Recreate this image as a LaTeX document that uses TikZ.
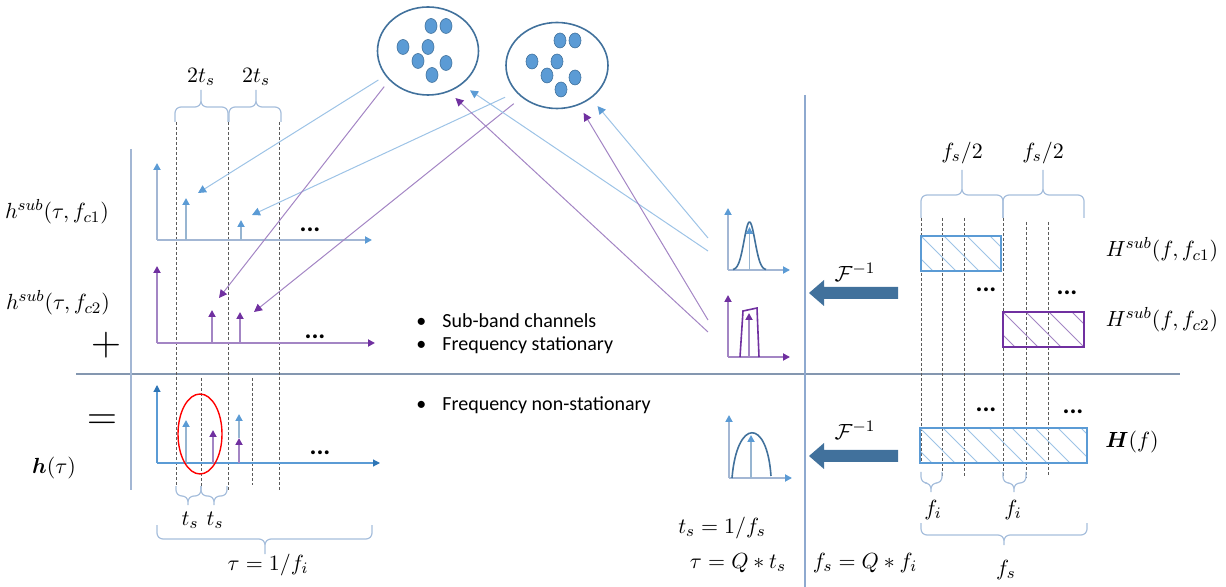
\documentclass[tikz,border=0pt]{standalone}
\usepackage{amsmath,amssymb}
\usepackage{fontspec}
\setmainfont{Carlito}
\usetikzlibrary{arrows.meta,positioning,calc,shapes.geometric}
\definecolor{dkblue}{HTML}{41719C}
\definecolor{mdblue}{HTML}{5B9BD5}
\definecolor{ltblue}{HTML}{9DC3E6}
\definecolor{axblue}{HTML}{A3B7D4}
\definecolor{deepblue}{HTML}{2E75B6}
\definecolor{purp}{HTML}{7030A0}
\definecolor{ltpurp}{HTML}{A385C4}
\definecolor{sepgray}{HTML}{8497B0}
\definecolor{sepblue}{HTML}{8EA9CF}
\definecolor{brcol}{HTML}{A6BEDC}
\definecolor{dashgray}{HTML}{5A5A5A}
\tikzset{
  cluster/.style={draw=dkblue,line width=0.8pt,ellipse,minimum width=50.5pt,minimum height=44pt,inner sep=0pt},
  scat/.style={fill=mdblue,draw=dkblue,line width=0.3pt},
  vline/.style={draw=dashgray,line width=0.4pt,dash pattern=on 1.5pt off 1pt},
  brc/.style={draw=brcol,line width=0.6pt,rounded corners=3pt},
  bcon/.style={draw=ltblue,line width=0.5pt,-{Triangle[length=4pt,width=4pt,color=mdblue]}},
  pcon/.style={draw=ltpurp,line width=0.5pt,-{Triangle[length=4pt,width=4pt,color=purp]}},
  baxis/.style={draw=axblue,line width=0.9pt,-{Triangle[length=3.5pt,width=3.5pt,color=mdblue]}},
  paxis/.style={draw=ltpurp,line width=0.9pt,-{Triangle[length=3.5pt,width=3.5pt,color=purp]}},
  daxis/.style={draw=mdblue,line width=0.6pt,-{Triangle[length=3.5pt,width=3.5pt,color=deepblue]}},
  bstem/.style={draw=ltblue!80!gray,line width=0.9pt,-{Triangle[length=3.5pt,width=3.5pt,color=mdblue]}},
  pstem/.style={draw=ltpurp,line width=0.9pt,-{Triangle[length=3.5pt,width=3.5pt,color=purp]}},
  hrect/.style={draw=#1,line width=0.7pt,rectangle,inner sep=0pt,minimum height=17.5pt},
  hatch/.style={path picture={\foreach \i in {-2,...,8}
      \draw[#1,line width=0.5pt] ([xshift=\i*11.5pt]path picture bounding box.north west) -- ++(20pt,-20pt);}},
  moredots/.style={font=\fontsize{13}{15}\bfseries},
  bigsym/.style={font=\fontsize{20}{24}\selectfont},
  bullets/.style={anchor=west,align=left,inner sep=0pt,font=\fontsize{10}{11.5}\selectfont},
  curve/.style={line width=0.8pt},
}
\begin{document}
\begin{tikzpicture}[x=0.5pt,y=-0.5pt,font=\fontsize{11}{13}\selectfont]
  \useasboundingbox (0,0) rectangle (1226,587);
  \draw[draw=sepgray,line width=0.6pt] (76,374) -- (1180,374);
  \draw[draw=axblue,line width=0.6pt] (131,149) -- (131,490);
  \draw[draw=sepblue,line width=0.6pt] (805,95) -- (805,587);
  \foreach \x/\ya/\yb in {176/122/487,228/122/490,279/122/492,201/378/487,252/378/485,
                          921/218/463,942/218/478,964/218/477,1003/218/478,1026/222/478,1048/222/475}
    \draw[vline] (\x,\ya) -- (\x,\yb);
  \foreach \xa/\xm/\xb/\ye/\yf/\yt in {175/201/228/122/107/90,229/256/281/122/107/90,
      921/962/1003/218/195/170,1003/1043/1084/218/195/170,176/188/201/486/496/505,
      201/214/227/486/496/505,157/265/372/525/539/554,921/931/942/472/483/492,
      1003/1014/1026/472/483/492,921/1004/1087/523/535/545}
    \draw[brc] (\xa,\ye) |- (\xm,\yf) -- (\xm,\yt) (\xb,\ye) |- (\xm,\yf) -- (\xm,\yt);

  \node[cluster] (cl1) at (428,51) {};
  \node[cluster,minimum width=51pt,minimum height=43pt] (cl2) at (557,65.5) {};
  \foreach \c in {cl1,cl2}
    \foreach \dx/\dy in {3/-25,18/-25,-25/-4,0/-4,-10/10,18/12,4/24}
      \draw[scat] ($(\c)+(\dx,\dy)$) ellipse (3pt and 3.75pt);

  \node (l2ts1) at (201,77) {$2t_s$};
  \node (l2ts2) at (256,77) {$2t_s$};
  \node (lhc1) at (57,212) {$h^{sub}(\tau,f_{c1})$};
  \node (lhc2) at (58,303) {$h^{sub}(\tau,f_{c2})$};
  \node (lh) at (54,468) {$\boldsymbol{h}(\tau)$};
  \node[bigsym] (plus) at (106,345) {$+$};
  \node[bigsym] (eq) at (102,422) {$=$};

  \draw[baxis] (157,240) -- (157,163);
  \draw[baxis] (157,240) -- (372,240);
  \draw[bstem] (186,240) -- (186,198);
  \draw[bstem] (241,240) -- (241,220);
  \node[moredots] (d1) at (310,230) {...};
  \draw[paxis] (157,343) -- (157,266);
  \draw[paxis] (157,343) -- (375,343);
  \draw[pstem] (212,343) -- (212,310);
  \draw[pstem] (240,343) -- (240,312);
  \node[moredots] (d2) at (315,337) {...};
  \draw[daxis] (157,463) -- (157,385);
  \draw[daxis] (157,463) -- (380,463);
  \draw[bstem] (186,463) -- (186,420);
  \draw[pstem] (213,463) -- (213,430);
  \draw[pstem] (239,463) -- (239,438);
  \draw[bstem] (239,438) -- (239,414);
  \draw[red,line width=0.7pt] (200,434) ellipse (11pt and 20pt);
  \node[moredots] (d3) at (320,453) {...};

  \node (lts1) at (190,520) {$t_s$};
  \node (lts2) at (215,520) {$t_s$};
  \node (ltau) at (268,565) {$\tau = 1/f_i$};

  \node[bullets] (bul1) at (416,333.5) {\makebox[13pt][l]{\textbullet}Sub-band channels\\
    \makebox[13pt][l]{\textbullet}Frequency stationary};
  \node[bullets] (bul2) at (416,405) {\makebox[13pt][l]{\textbullet}Frequency non-stationary};

  \draw[baxis] (728,270) -- (728,208);
  \draw[baxis] (728,270) -- (790,270);
  \draw[bstem] (749.5,270) -- (749.5,227);
  \draw[dkblue,curve,domain=733:766,samples=40,smooth] plot (\x,{270-48*exp(-((\x-749.5)^2)/60)});
  \draw[paxis] (728,357) -- (728,295);
  \draw[paxis] (728,357) -- (790,357);
  \draw[purp,curve] (740,357) -- (743,311) -- (757,308) -- (759,357);
  \draw[pstem] (749,357) -- (749,313);
  \draw[baxis] (729,478) -- (729,415);
  \draw[baxis] (729,478) -- (792,478);
  \draw[dkblue,curve] (732,478) .. controls (737,418) and (767,418) .. (771,476);
  \draw[bstem] (751,478) -- (751,435);

  \coordinate (ta1) at (198,193);
  \coordinate (ta2) at (252,215);
  \coordinate (tb1) at (219,298);
  \coordinate (tb2) at (254,312);
  \coordinate (ma1) at (708,238);
  \coordinate (ma2) at (708,251);
  \coordinate (mb1) at (708,320);
  \coordinate (mb2) at (708,332);
  \draw[bcon,shorten <=4pt] (cl1.210) -- (ta1);
  \draw[bcon,shorten <=6pt] (cl2.213) -- (ta2);
  \draw[pcon,shorten <=4pt] (cl1.217) -- (tb1);
  \draw[pcon,shorten <=5pt] (cl2.222) -- (tb2);
  \draw[bcon,shorten >=5pt] (ma2) -- (cl1.315);
  \draw[bcon,shorten >=5pt] (ma1) -- (cl2.316);
  \draw[pcon,shorten >=4.5pt] (mb2) -- (cl1.297);
  \draw[pcon,shorten >=4.5pt] (mb1) -- (cl2.299);

  \foreach \yc in {293,456}
    \fill[dkblue] (898,\yc-6) -- (824,\yc-6) -- (824,\yc-13) -- (809,\yc) -- (824,\yc+13)
      -- (824,\yc+6) -- (898,\yc+6) -- cycle;
  \node (finv1) at (855,272) {$\mathcal{F}^{-1}$};
  \node (finv2) at (855,430) {$\mathcal{F}^{-1}$};

  \node[hrect=mdblue,hatch=ltblue,minimum width=40pt] (hs1) at (961,253.5) {};
  \node[hrect=purp,hatch=ltpurp,minimum width=40.5pt] (hs2) at (1043.5,329.5) {};
  \node[hrect=mdblue,hatch=ltblue,minimum width=83.5pt] (hf) at (1003.5,445.5) {};
  \node (lfs1) at (962,153) {$f_s/2$};
  \node (lfs2) at (1043,153) {$f_s/2$};
  \node (lhs1) at (1162,250) {$H^{sub}(f,f_{c1})$};
  \node (lhs2) at (1162,320) {$H^{sub}(f,f_{c2})$};
  \node (lhf) at (1132,442) {$\boldsymbol{H}(f)$};
  \node[moredots] (d4) at (986,290) {...};
  \node[moredots] (d5) at (1067,293) {...};
  \node[moredots] (d6) at (986,410) {...};
  \node[moredots] (d7) at (1073,412) {...};
  \node (lfi1) at (933,510) {$f_i$};
  \node (lfi2) at (1013,510) {$f_i$};
  \node (lfs) at (1006,570) {$f_s$};

  \node (eqts) at (722,528) {$t_s = 1/f_s$};
  \node (eqtau) at (738,563) {$\tau = Q * t_s$};
  \node (eqfs) at (865,563) {$f_s = Q * f_i$};
\end{tikzpicture}
\end{document}
